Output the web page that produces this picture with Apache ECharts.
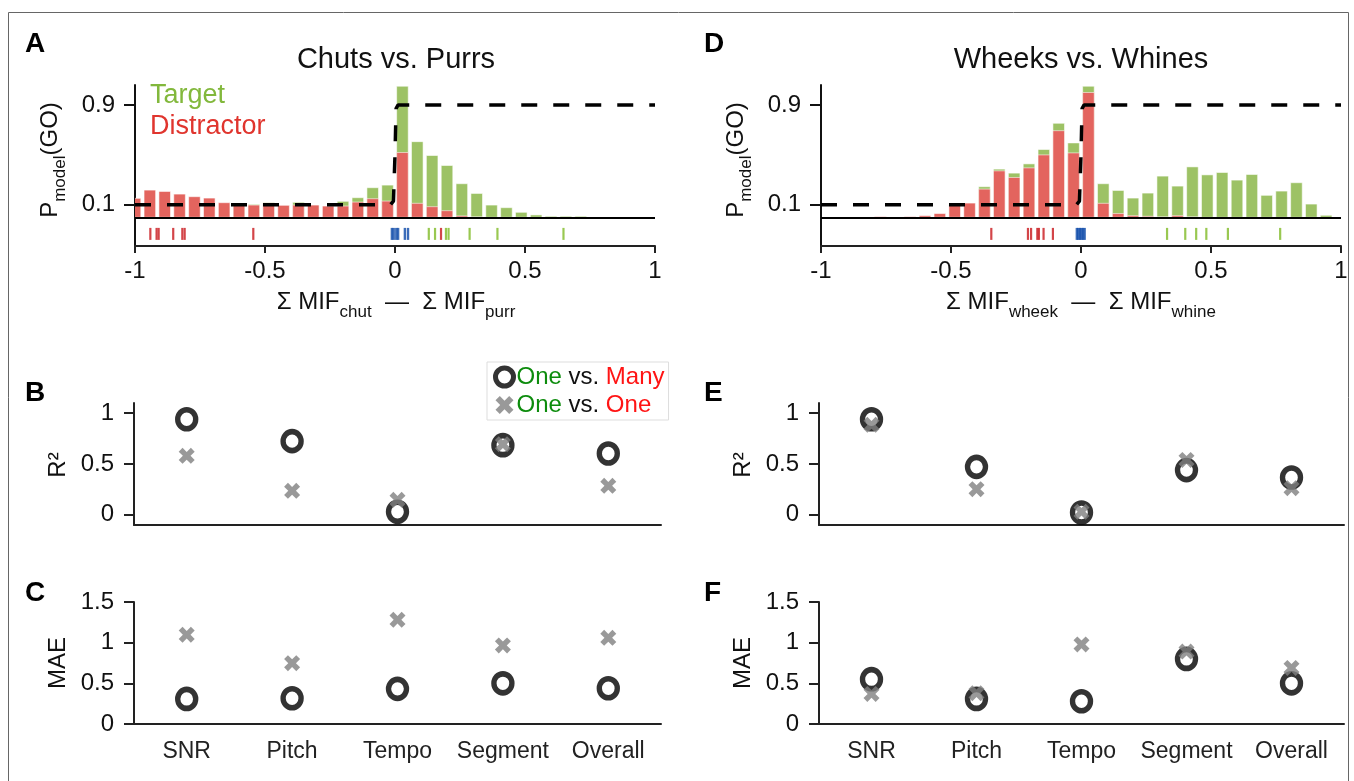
<!DOCTYPE html>
<html>
<head>
<meta charset="utf-8">
<script src="https://cdn.jsdelivr.net/npm/echarts@6/dist/echarts.min.js"></script>
<style>
  html, body { margin: 0; padding: 0; background: #fff; }
  #main { width: 1354px; height: 781px; }
</style>
</head>
<body>
<div id="main"></div>
<script>
// histogram bins: 36 bins centred from -1 to 1
const binWidth = 2 / 35;
const binCenters = [];
for (let k = 0; k < 36; k++) binCenters.push(+(-1 + k * binWidth).toFixed(4));

// Chuts vs. Purrs histogram heights (scaled to P axis)
const chutDistractor = [0.152, 0.218, 0.207, 0.186, 0.165, 0.154, 0.117, 0.098, 0.098, 0.115, 0.096, 0.098,
  0.098, 0.09, 0.09, 0.122, 0.149, 0.13, 0.519, 0.112, 0.085, 0.053, 0.011, 0.003,
  0, 0, 0, 0, 0, 0, 0, 0, 0, 0, 0, 0];
const chutTarget = [0, 0, 0, 0, 0, 0, 0, 0.106, 0.104, 0.118, 0, 0.12,
  0, 0, 0.128, 0.157, 0.237, 0.258, 1.05, 0.606, 0.495, 0.415, 0.269, 0.191,
  0.098, 0.077, 0.04, 0.019, 0.008, 0.008, 0.008, 0, 0, 0, 0, 0];

// Wheeks vs. Whines histogram heights
const wheekDistractor = [0, 0, 0, 0, 0.005, 0, 0.005, 0.013, 0.03, 0.098, 0.114, 0.226,
  0.372, 0.319, 0.396, 0.5, 0.694, 0.516, 1.0, 0.112, 0.03, 0.013, 0.008, 0.003,
  0.013, 0.003, 0, 0, 0, 0, 0, 0, 0, 0, 0, 0];
const wheekTarget = [0, 0, 0, 0, 0, 0, 0, 0, 0, 0, 0, 0.245,
  0.386, 0.354, 0.428, 0.543, 0.753, 0.596, 1.05, 0.269, 0.215, 0.154, 0.194, 0.33,
  0.25, 0.404, 0.34, 0.359, 0.298, 0.343, 0.176, 0.21, 0.277, 0.106, 0.016, 0];

// model P(GO) curve
const pModelX = [-1, -0.018, -0.006, 0, 0.004, 0.012, 1];
const pModelY = [0.1, 0.1, 0.13, 0.5, 0.87, 0.9, 0.9];

// raster of individual stimuli
const chutRasterDistractor = [-0.941, -0.917, -0.909, -0.853, -0.818, -0.809, -0.545, 0.177];
const chutRasterTarget = [0.130, 0.154, 0.196, 0.206, 0.287, 0.394, 0.648];
const chutRasterTrain = [-0.012, -0.005, 0.005, 0.012, 0.038, 0.05];
const wheekRasterDistractor = [-0.345, -0.204, -0.192, -0.168, -0.162, -0.144, -0.108];
const wheekRasterTarget = [0.331, 0.401, 0.443, 0.482, 0.565, 0.766];
const wheekRasterTrain = [-0.016, -0.01, -0.004, 0.002, 0.008, 0.014];

// summary panels
const categories = ['SNR', 'Pitch', 'Tempo', 'Segment', 'Overall'];
const r2ChutMany = [0.94, 0.725, 0.03, 0.685, 0.603];
const r2ChutOne = [0.58, 0.236, 0.148, 0.695, 0.285];
const maeChutMany = [0.308, 0.316, 0.432, 0.5, 0.44];
const maeChutOne = [1.097, 0.748, 1.282, 0.966, 1.06];
const r2WheekMany = [0.94, 0.472, 0.023, 0.44, 0.367];
const r2WheekOne = [0.885, 0.252, 0.03, 0.54, 0.262];
const maeWheekMany = [0.551, 0.308, 0.28, 0.8, 0.5];
const maeWheekOne = [0.37, 0.378, 0.978, 0.89, 0.69];

const FONT = '"Liberation Sans", Arial, sans-serif';
const GREEN_BAR = '#9dc265';
const RED_BAR = '#e3645e';
const X_PATH = 'path://M2.4,0L5,2.6L7.6,0L10,2.4L7.4,5L10,7.6L7.6,10L5,7.4L2.4,10L0,7.6L2.6,5L0,2.4Z';
const RASTER_Y = -0.133;

let chart = echarts.init(document.getElementById('main'));

const axisLine = { onZero: false, lineStyle: { color: '#222', width: 2 } };
const tickStyle = { color: '#222', width: 2 };

function histItem(params, api) {
  const c = api.value(0), v = api.value(1);
  if (!v) return;
  const p0 = api.coord([c - binWidth / 2, 0]);
  const p1 = api.coord([c + binWidth / 2, v]);
  const bw = (p1[0] - p0[0]) * 0.78;
  return {
    type: 'rect',
    shape: { x: (p0[0] + p1[0]) / 2 - bw / 2, y: p1[1], width: bw, height: p0[1] - p1[1] },
    style: api.style({ stroke: 'rgba(255,255,255,0.55)', lineWidth: 1 })
  };
}

function histPanel(idx, target, distractor, rTarget, rDistr, rTrain) {
  const ax = { xAxisIndex: idx, yAxisIndex: idx };
  const raster = (vals, color, w) => Object.assign({
    type: 'scatter', symbol: 'rect', symbolSize: [w, 12], z: 5, silent: true,
    itemStyle: { color: color },
    data: vals.map(v => [v, RASTER_Y])
  }, ax);
  return [
    Object.assign({ type: 'custom', clip: true, z: 2, renderItem: histItem, itemStyle: { color: GREEN_BAR },
      data: binCenters.map((c, i) => [c, target[i]]) }, ax),
    Object.assign({ type: 'custom', clip: true, z: 3, renderItem: histItem, itemStyle: { color: RED_BAR },
      data: binCenters.map((c, i) => [c, distractor[i]]) }, ax),
    Object.assign({
      type: 'line', z: 6, showSymbol: false, silent: true,
      lineStyle: { color: '#000', width: 3.5, type: [16, 16] },
      data: pModelX.map((x, i) => [x, pModelY[i]]),
      markLine: { silent: true, symbol: 'none', label: { show: false }, animation: false,
        lineStyle: { color: '#000', width: 2, type: 'solid' }, data: [{ yAxis: 0 }] }
    }, ax),
    raster(rDistr, '#c8161b', 2.2),
    raster(rTarget, '#7fba26', 2.2),
    raster(rTrain, '#0a47a8', 2.4)
  ];
}

function scorePanel(idx, many, one) {
  const ax = { xAxisIndex: idx, yAxisIndex: idx };
  return [
    Object.assign({ type: 'scatter', name: 'One vs. Many', symbol: 'circle', symbolSize: [18, 19], z: 3,
      itemStyle: { color: 'rgba(255,255,255,0)', borderColor: '#000', borderWidth: 5.5 }, data: many }, ax),
    Object.assign({ type: 'scatter', name: 'One vs. One', symbol: X_PATH, symbolSize: 16, z: 4,
      itemStyle: { color: '#808080' }, data: one }, ax)
  ];
}

function histX(gi) {
  return { type: 'value', gridIndex: gi, min: -1, max: 1, interval: 0.5,
    axisLine: axisLine, splitLine: { show: false },
    axisTick: { length: 7, lineStyle: tickStyle },
    axisLabel: { fontSize: 24, color: '#111', margin: 13 } };
}
function histY(gi) {
  return { type: 'value', gridIndex: gi, min: -0.23, max: 1.06,
    axisLine: { show: true, onZero: false, lineStyle: { color: '#111', width: 2 } }, splitLine: { show: false },
    axisTick: { show: true, length: 11, customValues: [0.1, 0.9], lineStyle: { color: '#111', width: 2 } },
    axisLabel: { fontSize: 24, color: '#111', margin: 20, customValues: [0.1, 0.9] } };
}
function catX(gi, labels) {
  return { type: 'category', gridIndex: gi, data: categories,
    axisLine: axisLine,
    axisTick: { alignWithLabel: true, length: 10, lineStyle: tickStyle },
    axisLabel: { show: labels, interval: 0, fontSize: 23, color: '#222', margin: 16 } };
}
function scoreY(gi, isR2) {
  const y = { type: 'value', gridIndex: gi,
    axisLine: { show: true, onZero: false, lineStyle: { color: '#222', width: 2 } }, splitLine: { show: false },
    axisTick: { show: true, length: 10, lineStyle: tickStyle },
    axisLabel: { fontSize: 24, color: '#111', margin: 20 } };
  if (isR2) {
    y.min = -0.1; y.max = 1.1;
    y.axisTick.customValues = [0, 0.5, 1];
    y.axisLabel.customValues = [0, 0.5, 1];
  } else {
    y.min = 0; y.max = 1.5; y.interval = 0.5;
  }
  return y;
}

function txt(x, y, text, extra) {
  return { type: 'text', x: x, y: y, silent: true,
    style: Object.assign({ text: text, fontFamily: FONT, fontSize: 24, fill: '#111',
      align: 'center', verticalAlign: 'middle' }, extra || {}) };
}
const subRich = {
  n: { fontSize: 24, fontFamily: FONT, color: '#111' },
  s: { fontSize: 17, fontFamily: FONT, color: '#111', padding: [20, 0, 0, 0] }
};
function rotTxt(x, y, text) {
  const t = txt(x, y, text, { rich: subRich });
  t.rotation = Math.PI / 2;
  return t;
}

let option = {
  animation: false,
  textStyle: { fontFamily: FONT },
  grid: [
    { left: 135, top: 85, width: 520, height: 161 },
    { left: 821, top: 85, width: 520, height: 161 },
    { left: 134, top: 403, width: 527, height: 122 },
    { left: 819, top: 403, width: 525, height: 122 },
    { left: 134, top: 602, width: 527, height: 122 },
    { left: 819, top: 602, width: 525, height: 122 }
  ],
  xAxis: [histX(0), histX(1), catX(2, false), catX(3, false), catX(4, true), catX(5, true)],
  yAxis: [histY(0), histY(1), scoreY(2, true), scoreY(3, true), scoreY(4, false), scoreY(5, false)],
  legend: {
    data: [
      { name: 'One vs. Many', icon: 'circle',
        itemStyle: { color: 'rgba(255,255,255,0)', borderColor: '#000', borderWidth: 5 } },
      { name: 'One vs. One', icon: X_PATH, itemStyle: { color: '#808080', borderWidth: 0 } }
    ],
    orient: 'vertical', left: 487, top: 362, itemWidth: 18, itemHeight: 18, itemGap: 4,
    padding: [3, 4, 3, 6], borderColor: '#ddd', borderWidth: 1, selectedMode: false,
    formatter: name => name === 'One vs. Many' ? '{g|One} vs. {r|Many}' : '{g|One} vs. {r|One}',
    textStyle: { fontSize: 24, color: '#111', fontFamily: FONT, padding: [0, 0, 0, -2],
      rich: { g: { color: '#0d8c0d', fontSize: 24, fontFamily: FONT },
              r: { color: '#ff1414', fontSize: 24, fontFamily: FONT } } }
  },
  graphic: [
    { type: 'rect', silent: true, shape: { x: 8.5, y: 12.5, width: 1340, height: 800 },
      style: { fill: 'none', stroke: '#666', lineWidth: 1 } },
    txt(25, 44, 'A', { fontWeight: 'bold', fontSize: 28, align: 'left', fill: '#000' }),
    txt(704, 44, 'D', { fontWeight: 'bold', fontSize: 28, align: 'left', fill: '#000' }),
    txt(25, 393, 'B', { fontWeight: 'bold', fontSize: 28, align: 'left', fill: '#000' }),
    txt(704, 393, 'E', { fontWeight: 'bold', fontSize: 28, align: 'left', fill: '#000' }),
    txt(25, 593, 'C', { fontWeight: 'bold', fontSize: 28, align: 'left', fill: '#000' }),
    txt(704, 593, 'F', { fontWeight: 'bold', fontSize: 28, align: 'left', fill: '#000' }),
    txt(396, 60, 'Chuts vs. Purrs', { fontSize: 29 }),
    txt(1081, 60, 'Wheeks vs. Whines', { fontSize: 29 }),
    txt(150, 96, 'Target', { fontSize: 27, align: 'left', fill: '#82b83c' }),
    txt(150, 127, 'Distractor', { fontSize: 27, align: 'left', fill: '#e0352e' }),
    rotTxt(50, 160, '{n|P}{s|model}{n|(GO)}'),
    rotTxt(736, 160, '{n|P}{s|model}{n|(GO)}'),
    txt(396, 302, '{n|Σ MIF}{s|chut}{n|  —  Σ MIF}{s|purr}', { rich: subRich }),
    txt(1081, 302, '{n|Σ MIF}{s|wheek}{n|  —  Σ MIF}{s|whine}', { rich: subRich }),
    Object.assign(txt(58, 465, 'R²'), { rotation: Math.PI / 2 }),
    Object.assign(txt(743, 465, 'R²'), { rotation: Math.PI / 2 }),
    Object.assign(txt(58, 663, 'MAE'), { rotation: Math.PI / 2 }),
    Object.assign(txt(743, 663, 'MAE'), { rotation: Math.PI / 2 })
  ],
  series: [].concat(
    histPanel(0, chutTarget, chutDistractor, chutRasterTarget, chutRasterDistractor, chutRasterTrain),
    histPanel(1, wheekTarget, wheekDistractor, wheekRasterTarget, wheekRasterDistractor, wheekRasterTrain),
    scorePanel(2, r2ChutMany, r2ChutOne),
    scorePanel(3, r2WheekMany, r2WheekOne),
    scorePanel(4, maeChutMany, maeChutOne),
    scorePanel(5, maeWheekMany, maeWheekOne)
  )
};

option && chart.setOption(option);
</script>
</body>
</html>
